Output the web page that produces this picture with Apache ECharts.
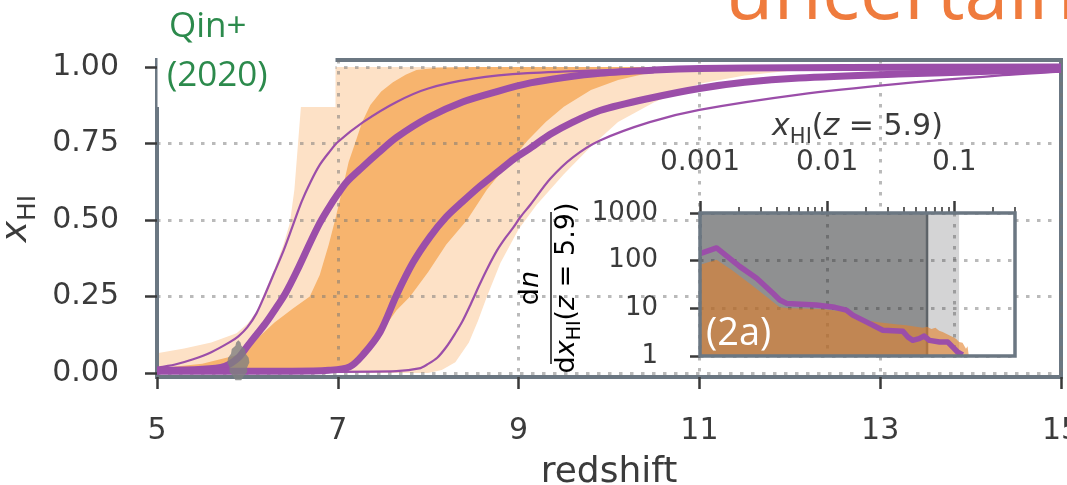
<!DOCTYPE html>
<html>
<head>
<meta charset="utf-8">
<script src="https://cdn.jsdelivr.net/npm/echarts@6/dist/echarts.min.js"></script>
<style>
  html, body { margin: 0; padding: 0; background: #fff; }
  #chart { width: 1067px; height: 485px; }
</style>
</head>
<body>
<div id="chart"></div>
<script>
// Neutral hydrogen fraction x_HI against redshift: 68% / 95% credible bands (orange),
// two model envelopes (purple), the Qin+ (2020) point, and an inset with the
// distribution of x_HI at z = 5.9.

// ---- main panel: axis ticks ----
const zTicks = [5, 7, 9, 11, 13, 15];
const xhiTicks = [0, 0.25, 0.5, 0.75, 1.0];

// ---- main panel: 95% band (light orange), [z, x_HI] ----
const outerUpper = [[5.0,0.065],[5.3,0.08],[5.6,0.1],[5.88,0.13],[6.0,0.16],[6.1,0.2],[6.2,0.27],[6.3,0.34],[6.4,0.42],[6.47,0.49],[6.52,0.6],[6.56,0.75],[6.6,0.9],[6.63,1.0],[15,1.0]];
const outerLower = [[5.0,0],[8.0,0],[8.15,0.01],[8.3,0.035],[8.45,0.1],[8.55,0.17],[8.65,0.25],[8.8,0.36],[9.0,0.47],[9.2,0.55],[9.5,0.65],[9.8,0.74],[10.1,0.82],[10.5,0.885],[11,0.945],[11.5,0.972],[12,0.988],[12.5,1.0],[15,1.0]];

// ---- main panel: 68% band (orange) ----
const innerUpper = [[5.0,0.015],[5.5,0.03],[5.9,0.06],[6.1,0.11],[6.3,0.165],[6.5,0.21],[6.69,0.25],[6.8,0.32],[6.9,0.42],[6.97,0.5],[7.05,0.6],[7.12,0.69],[7.19,0.75],[7.27,0.82],[7.36,0.876],[7.48,0.92],[7.61,0.95],[7.75,0.975],[7.87,0.99],[8.1,0.998],[8.5,1.0],[15,1.0]];
const innerLower = [[5.0,0],[6.9,0],[7.13,0.02],[7.28,0.06],[7.47,0.13],[7.65,0.205],[7.8,0.25],[8.0,0.33],[8.2,0.42],[8.43,0.5],[8.65,0.6],[8.9,0.69],[9.1,0.76],[9.3,0.82],[9.5,0.87],[9.8,0.925],[10.1,0.958],[10.4,0.978],[10.8,0.99],[11.2,0.997],[11.6,1.0],[15,1.0]];

// ---- main panel: purple model curves ----
const thickEarly = [[5.0,0.008],[5.5,0.012],[5.75,0.022],[5.9,0.05],[6.0,0.088],[6.1,0.125],[6.2,0.162],[6.3,0.205],[6.42,0.26],[6.55,0.335],[6.7,0.43],[6.8,0.49],[6.9,0.54],[7.0,0.585],[7.1,0.625],[7.28,0.675],[7.45,0.72],[7.65,0.77],[8.0,0.835],[8.38,0.886],[8.76,0.92],[9.13,0.948],[9.5,0.966],[9.9,0.98],[10.5,0.99],[11,0.995],[12,0.998],[15,1.0]];
const thickLate = [[5.0,0.006],[6.5,0.006],[6.9,0.009],[7.13,0.02],[7.28,0.06],[7.47,0.135],[7.65,0.255],[7.83,0.36],[8.02,0.445],[8.2,0.51],[8.38,0.56],[8.57,0.61],[8.76,0.655],[8.95,0.7],[9.13,0.735],[9.35,0.78],[9.6,0.82],[9.9,0.858],[10.45,0.898],[11,0.93],[11.5,0.95],[12.1,0.964],[13.2,0.977],[14.2,0.986],[15,0.993]];
const thinEarly = [[5.0,0.018],[5.2,0.028],[5.4,0.045],[5.6,0.068],[5.8,0.1],[5.9,0.12],[6.0,0.15],[6.1,0.195],[6.2,0.26],[6.3,0.33],[6.4,0.4],[6.5,0.48],[6.6,0.56],[6.7,0.625],[6.8,0.68],[6.9,0.72],[7.0,0.755],[7.28,0.82],[7.65,0.886],[8.0,0.93],[8.5,0.962],[9.1,0.98],[10,0.99],[11,0.996],[12,0.998],[15,1.0]];
const thinLate = [[5.0,0.004],[7.0,0.004],[7.65,0.006],[7.9,0.015],[8.0,0.03],[8.1,0.05],[8.2,0.085],[8.3,0.13],[8.38,0.17],[8.47,0.225],[8.57,0.29],[8.66,0.345],[8.76,0.4],[8.85,0.44],[8.94,0.475],[9.02,0.51],[9.13,0.55],[9.35,0.635],[9.6,0.705],[9.9,0.76],[10.45,0.82],[11,0.86],[12.1,0.91],[13.2,0.945],[14.3,0.972],[15,0.985]];

// ---- main panel: Qin+ (2020) constraint ----
const qinPoint = [[5.9, 0.042]];

// ---- inset: axes ----
const insetXRange = [0.001, 0.3];
const insetYRange = [1, 1000];
const insetXMajor = [0.001, 0.01, 0.1];
const insetXMinor = [0.002,0.003,0.004,0.005,0.006,0.007,0.008,0.009,0.02,0.03,0.04,0.05,0.06,0.07,0.08,0.09,0.2,0.3];

// ---- inset: shaded x_HI ranges [from, to] ----
const insetSpans = [[0.001, 0.061], [0.061, 0.109]];

// ---- inset: distribution histogram and model curve, [x_HI, dn/dx_HI] ----
const insetHist = [[0.001,82],[0.00135,105],[0.0018,62],[0.0025,32],[0.0033,18],[0.00424,10.5],[0.005,10],[0.0065,9.9],[0.0093,9.6],[0.0115,9.0],[0.01415,8.4],[0.017,7.0],[0.0203,5.6],[0.025,5.1],[0.0309,4.8],[0.036,4.6],[0.0418,4.4],[0.05,4.1],[0.0565,3.9],[0.061,4.1],[0.066,3.7],[0.071,3.9],[0.076,3.4],[0.081,3.2],[0.087,2.9],[0.0973,2.5],[0.103,2.3],[0.109,1.96],[0.116,1.9],[0.1235,1.42],[0.127,1.6],[0.13,1.0]];
const insetCurve = [[0.001,140],[0.00135,185],[0.00206,75],[0.00279,42.8],[0.0038,20],[0.00424,15],[0.0048,12.7],[0.0082,11.7],[0.0115,10.5],[0.01415,9.2],[0.0159,7.2],[0.0203,5.2],[0.0274,3.46],[0.0394,3.3],[0.0431,2.5],[0.047,2.13],[0.0529,2.31],[0.058,2.62],[0.0637,2.13],[0.0765,1.96],[0.0889,1.96],[0.0973,1.53],[0.1065,1.2],[0.1163,1.05]];

// ---- styling ----
const PURPLE = '#9b4ea9';
const ORANGE_DARK = '#f7b46e';
const ORANGE_LIGHT = '#fde1c6';
const SPINE = '#6b7782';
const TICK = '#3a3a3a';
const LABEL = '#3b3b3b';
const GRIDLINE = 'rgba(118,118,118,0.5)';
const FONT = 'DejaVu Sans';
const SANS = 'Open Sans';

const dotted = { color: GRIDLINE, width: 3, type: [3.5, 7.5] };

function bandSeries(upper, lower, color) {
  const ring = upper.concat(lower.slice().reverse());
  return {
    type: 'custom', xAxisIndex: 0, yAxisIndex: 0, z: 1, silent: true,
    data: ring, encode: { x: 0, y: 1 },
    renderItem(params, api) {
      if (params.dataIndex !== 0) return null;   // one polygon for the whole band
      return { type: 'polygon', shape: { points: ring.map(p => api.coord(p)) }, style: { fill: color } };
    }
  };
}

function curve(data, width) {
  return {
    type: 'line', xAxisIndex: 0, yAxisIndex: 0, z: 4, silent: true,
    data, showSymbol: false, symbol: 'none',
    smooth: 0.3,
    lineStyle: { color: PURPLE, width }
  };
}

// mathtext-like rich styles: italic symbol, roman text, lowered subscript
const subRich = (size) => ({
  it: { fontFamily: FONT, fontStyle: 'italic', fontSize: size, color: LABEL, verticalAlign: 'bottom', lineHeight: size + 4, padding: [0, 0, Math.round(size * 0.2), 0] },
  rm: { fontFamily: FONT, fontSize: size, color: LABEL, verticalAlign: 'bottom', lineHeight: size + 4, padding: [0, 0, Math.round(size * 0.2), 0] },
  sub: { fontFamily: FONT, fontSize: Math.round(size * 0.7), color: LABEL, verticalAlign: 'bottom', lineHeight: Math.round(size * 0.7) + 2 }
});

const chart = echarts.init(document.getElementById('chart'), null, { renderer: 'canvas' });

const option = {
  animation: false,
  backgroundColor: '#fff',
  grid: [
    { left: 157, top: 60, width: 904, height: 317, show: true, borderColor: SPINE, borderWidth: 4, z: 0, outerBoundsMode: 'none', containLabel: false },
    { left: 700, top: 213, width: 315, height: 143, show: true, backgroundColor: '#fff', borderWidth: 0, z: 6, outerBoundsMode: 'none', containLabel: false }
  ],
  xAxis: [
    {
      type: 'value', gridIndex: 0, min: zTicks[0], max: zTicks[zTicks.length - 1], interval: 2, z: 3,
      axisLine: { show: true, onZero: false, lineStyle: { color: SPINE, width: 4 } },
      axisTick: { show: true, length: 12, lineStyle: { color: TICK, width: 2.5 } },
      axisLabel: { fontFamily: FONT, fontSize: 30, color: LABEL, margin: 39 },
      splitLine: { show: true, lineStyle: dotted },
      name: 'redshift', nameLocation: 'middle', nameGap: 78,
      nameTextStyle: { fontFamily: FONT, fontSize: 36, color: LABEL }
    },
    {
      type: 'log', logBase: 10, gridIndex: 1, position: 'top', min: insetXRange[0], max: insetXRange[1], z: 7,
      axisLine: { show: false },
      axisTick: { show: true, customValues: insetXMajor, length: 12, lineStyle: { color: TICK, width: 2.5 } },
      axisLabel: { customValues: insetXMajor, fontFamily: FONT, fontSize: 28, color: LABEL, margin: 36,
                   formatter: v => String(+Number(v).toPrecision(3)) },
      splitLine: { show: true, lineStyle: dotted },
      name: '{it|x}{sub|HI}{rm|(}{it|z}{rm| = 5.9)}', nameLocation: 'middle', nameGap: 58,
      nameTextStyle: { rich: subRich(30) }
    },
    {
      type: 'log', logBase: 10, gridIndex: 1, position: 'top', min: insetXRange[0], max: insetXRange[1], z: 7,
      axisLine: { show: false },
      axisTick: { show: true, customValues: insetXMinor, length: 6, lineStyle: { color: TICK, width: 1.6 } },
      axisLabel: { show: false },
      splitLine: { show: false }
    }
  ],
  yAxis: [
    {
      type: 'value', gridIndex: 0, min: -0.013, max: 1.023, z: 3,
      axisLine: { show: true, lineStyle: { color: SPINE, width: 4 } },
      axisTick: { show: true, customValues: xhiTicks, length: 12, lineStyle: { color: TICK, width: 2.5 } },
      axisLabel: { customValues: xhiTicks, fontFamily: FONT, fontSize: 30, color: LABEL, margin: 38,
                   formatter: v => Number(v).toFixed(2) },
      splitLine: { show: true, lineStyle: dotted },
      name: '{it|x}{sub|HI}', nameLocation: 'middle', nameRotate: 90, nameGap: 110,
      nameTextStyle: { rich: subRich(36) }
    },
    {
      type: 'log', logBase: 10, gridIndex: 1, min: insetYRange[0], max: insetYRange[1], z: 7,
      axisLine: { show: false },
      axisTick: { show: true, length: 10, lineStyle: { color: TICK, width: 2.5 } },
      axisLabel: { fontFamily: FONT, fontSize: 26, color: LABEL, margin: 42, formatter: v => String(Math.round(v)) },
      splitLine: { show: true, lineStyle: dotted }
    }
  ],
  series: [
    bandSeries(outerUpper, outerLower, ORANGE_LIGHT),
    bandSeries(innerUpper, innerLower, ORANGE_DARK),
    curve(thinEarly, 2.2),
    curve(thinLate, 2.2),
    curve(thickEarly, 7),
    curve(thickLate, 7),
    {
      type: 'scatter', xAxisIndex: 0, yAxisIndex: 0, z: 5, silent: true, data: qinPoint,
      symbol: 'path://M50,0 L56,6 L58,14 L68,22 L70,34 L78,44 L80,56 L74,68 L74,80 L64,90 L58,100 L42,100 L36,90 L26,80 L26,68 L20,56 L22,44 L30,34 L32,22 L42,14 L44,6 Z',
      symbolSize: [22, 40], itemStyle: { color: '#808080' }
    },
    {
      // shaded x_HI ranges in the inset
      type: 'custom', xAxisIndex: 1, yAxisIndex: 1, z: 8, silent: true,
      data: insetSpans.map(s => [s[0], s[1], insetYRange[0], insetYRange[1]]),
      encode: { x: [0, 1], y: [2, 3] },
      renderItem(params, api) {
        const a = api.coord([api.value(0), api.value(3)]);
        const b = api.coord([api.value(1), api.value(2)]);
        const dark = params.dataIndex === 0;
        const children = [{
          type: 'rect', shape: { x: a[0], y: a[1], width: b[0] - a[0], height: b[1] - a[1] },
          style: { fill: dark ? 'rgba(40,42,45,0.52)' : 'rgba(40,42,45,0.2)' }
        }];
        if (dark) children.push({ type: 'line', shape: { x1: b[0], y1: a[1], x2: b[0], y2: b[1] },
                                  style: { stroke: 'rgba(90,96,102,0.9)', lineWidth: 2.5 } });
        return { type: 'group', children };
      }
    },
    {
      type: 'line', xAxisIndex: 1, yAxisIndex: 1, z: 9, silent: true,
      data: insetHist, showSymbol: false, symbol: 'none',
      lineStyle: { width: 0 },
      areaStyle: { origin: 'start', color: 'rgba(226,128,42,0.6)', opacity: 1 }
    },
    {
      type: 'line', xAxisIndex: 1, yAxisIndex: 1, z: 10, silent: true,
      data: insetCurve, showSymbol: false, symbol: 'none',
      lineStyle: { color: PURPLE, width: 5.5, join: 'round' }
    }
  ],
  graphic: [
    // white label box with the Qin+ (2020) reference
    { type: 'rect', z: 50, silent: true, shape: { x: 157.5, y: 0, width: 178, height: 107 }, style: { fill: '#fff' } },
    { type: 'text', z: 51, silent: true, x: 169, y: 27,
      style: { text: 'Qin+', fontFamily: SANS, fontSize: 35, fill: '#2c8a4c', verticalAlign: 'middle' } },
    { type: 'text', z: 51, silent: true, x: 167, y: 76,
      style: { text: '(2020)', fontFamily: SANS, fontSize: 35, fill: '#2c8a4c', verticalAlign: 'middle' } },
    // heading
    { type: 'text', z: 51, silent: true, x: 725, y: -4,
      style: { text: 'uncertain', fontFamily: SANS, fontSize: 79, fill: '#ef7b3d', verticalAlign: 'middle' } },
    // inset panel tag
    { type: 'text', z: 60, silent: true, x: 706, y: 334,
      style: { text: '(2a)', fontFamily: SANS, fontSize: 38, fill: '#ffffff', verticalAlign: 'middle' } },
    // inset frame
    { type: 'rect', z: 60, silent: true, shape: { x: 700, y: 213, width: 315, height: 143 },
      style: { fill: 'none', stroke: SPINE, lineWidth: 3.5 } },
    // inset y label: dn / dx_HI(z = 5.9)
    { type: 'group', z: 60, silent: true, x: 551, y: 288, rotation: Math.PI / 2,
      children: [
        { type: 'text', x: 0, y: -2, z: 60,
          style: { text: '{rm|d}{it|n}', align: 'center', verticalAlign: 'bottom', rich: subRich(27) } },
        { type: 'line', z: 60, shape: { x1: -76, y1: 0, x2: 76, y2: 0 }, style: { stroke: LABEL, lineWidth: 1.8 } },
        { type: 'text', x: 0, y: 3, z: 60,
          style: { text: '{rm|d}{it|x}{sub|HI}{rm|(}{it|z}{rm| = 5.9)}', align: 'center', verticalAlign: 'top', rich: subRich(27) } }
      ] }
  ]
};

chart.setOption(option);
</script>
</body>
</html>
